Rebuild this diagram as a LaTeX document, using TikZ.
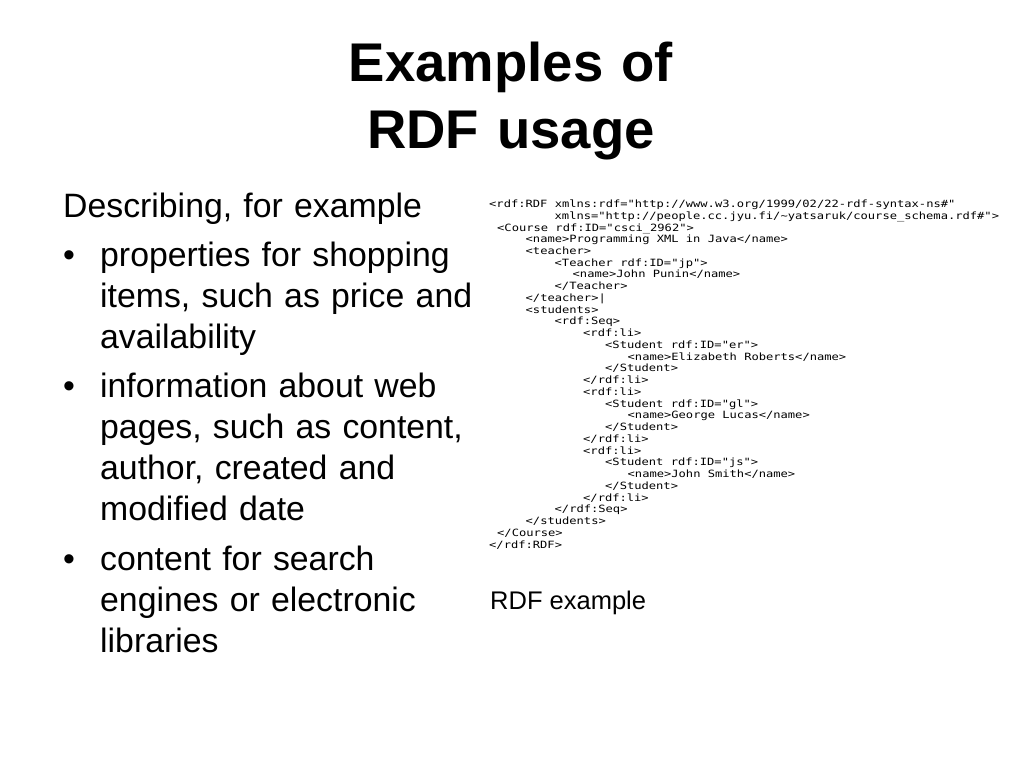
\documentclass[tikz,border=0pt]{standalone}
\usepackage{fontspec}
\setmainfont{Liberation Sans}
\newfontfamily\codefont[FakeStretch=1.21]{DejaVu Sans Mono}
\usetikzlibrary{positioning}

\begin{document}
\begin{tikzpicture}[x=1pt, y=-1pt,
    headline/.style={anchor=base, inner sep=0pt, text width=600pt, align=center,
      font=\fontsize{54.5}{66.6}\selectfont\bfseries},
    body/.style={anchor=base west, inner sep=0pt, text width=400pt, align=left,
      font=\fontsize{33.8}{41}\selectfont},
    dot/.style={anchor=base west, inner sep=0pt, font=\fontsize{33.8}{41}\selectfont},
    code/.style={anchor=base west, inner sep=0pt, font=\codefont\fontsize{10}{12}\selectfont},
    caption/.style={anchor=base west, inner sep=0pt, font=\fontsize{25.5}{30}\selectfont}]
    \fill [white] (0,0) rectangle (1024,768);
    \useasboundingbox (0,0) rectangle (1024,768);
    \node [headline] (title) at (511,81.7) {Examples of\\RDF usage};
    \node [body] (intro) at (63,217) {Describing, for example};
    \node [dot] (d1) at (63,266) {\textbullet};
    \node [body] (b1) at (100,266) {properties for shopping\\items, such as price and\\availability};
    \node [dot] (d2) at (63,397.5) {\textbullet};
    \node [body] (b2) at (100,397.5) {information about web\\pages, such as content,\\author, created and\\modified date};
    \node [dot] (d3) at (63,570) {\textbullet};
    \node [body] (b3) at (100,570) {content for search\\engines or electronic\\libraries};
    \node [code] (c1) at (489,207.5) {<rdf:RDF xmlns:rdf="http://www.w3.org/1999/02/22-rdf-syntax-ns\#"};
    \node [code] (c2) at (554.5,219.2) {xmlns="http://people.cc.jyu.fi/\textasciitilde yatsaruk/course\_schema.rdf\#">};
    \node [code] (c3) at (497,231.0) {<Course rdf:ID="csci\_2962">};
    \node [code] (c4) at (525.5,242.7) {<name>Programming XML in Java</name>};
    \node [code] (c5) at (525.5,254.5) {<teacher>};
    \node [code] (c6) at (554.5,266.2) {<Teacher rdf:ID="jp">};
    \node [code] (c7) at (572.5,277.9) {<name>John Punin</name>};
    \node [code] (c8) at (554.5,289.7) {</Teacher>};
    \node [code] (c9) at (525.5,301.4) {</teacher>|};
    \node [code] (c10) at (525.5,313.2) {<students>};
    \node [code] (c11) at (554.5,324.9) {<rdf:Seq>};
    \node [code] (c12) at (583,336.6) {<rdf:li>};
    \node [code] (c13) at (605,348.4) {<Student rdf:ID="er">};
    \node [code] (c14) at (627.5,360.1) {<name>Elizabeth Roberts</name>};
    \node [code] (c15) at (605,371.9) {</Student>};
    \node [code] (c16) at (583,383.6) {</rdf:li>};
    \node [code] (c17) at (583,395.3) {<rdf:li>};
    \node [code] (c18) at (605,407.1) {<Student rdf:ID="gl">};
    \node [code] (c19) at (627.5,418.8) {<name>George Lucas</name>};
    \node [code] (c20) at (605,430.6) {</Student>};
    \node [code] (c21) at (583,442.3) {</rdf:li>};
    \node [code] (c22) at (583,454.0) {<rdf:li>};
    \node [code] (c23) at (605,465.8) {<Student rdf:ID="js">};
    \node [code] (c24) at (627.5,477.5) {<name>John Smith</name>};
    \node [code] (c25) at (605,489.3) {</Student>};
    \node [code] (c26) at (583,501.0) {</rdf:li>};
    \node [code] (c27) at (554.5,512.7) {</rdf:Seq>};
    \node [code] (c28) at (525.5,524.5) {</students>};
    \node [code] (c29) at (497,536.2) {</Course>};
    \node [code] (c30) at (489,548.0) {</rdf:RDF>};
    \node [caption] (cap) at (490,609) {RDF example};
\end{tikzpicture}
\end{document}
